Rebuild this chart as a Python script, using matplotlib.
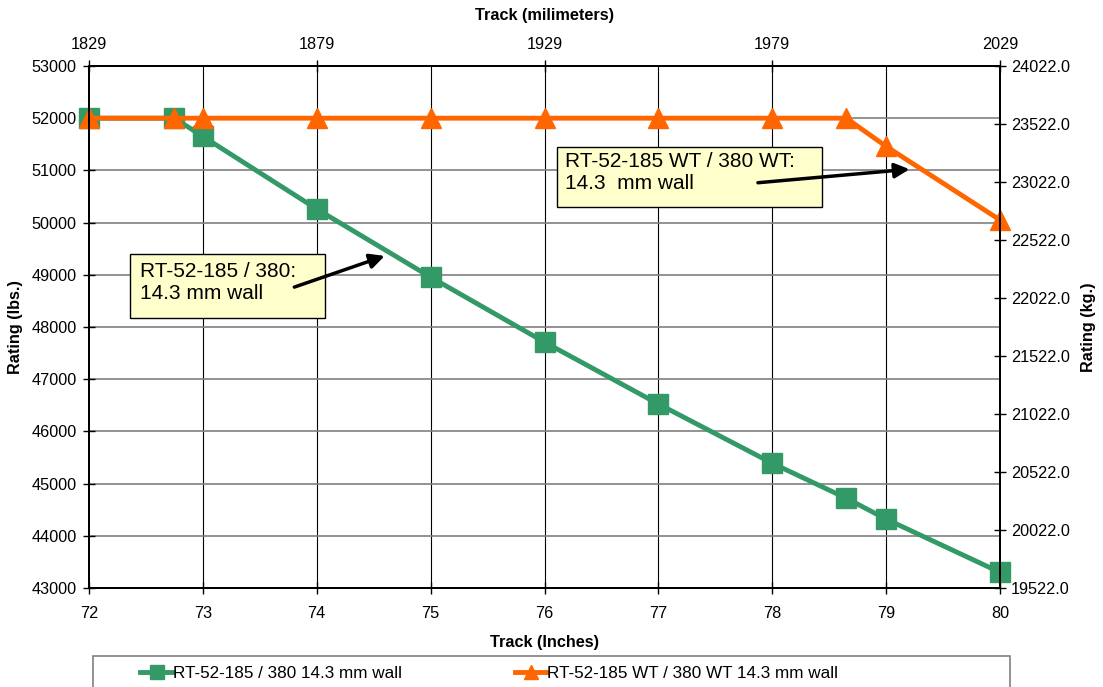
import matplotlib.pyplot as plt
from matplotlib.patches import Rectangle
from matplotlib.ticker import FormatStrFormatter

plt.rcParams['font.family'] = ['Liberation Sans', 'DejaVu Sans']

# data
track_in = [72, 72.75, 73, 74, 75, 76, 77, 78, 78.65, 79, 80]
rating_std = [52000, 52000, 51650, 50260, 48955, 47710, 46525, 45390, 44720, 44320, 43300]
rating_wt = [52000, 52000, 52000, 52000, 52000, 52000, 52000, 52000, 52000, 51460, 50050]

label_std = 'RT-52-185 / 380 14.3 mm wall'
label_wt = 'RT-52-185 WT / 380 WT 14.3 mm wall'
note_std = 'RT-52-185 / 380:\n14.3 mm wall'
note_wt = 'RT-52-185 WT / 380 WT:\n14.3  mm wall'

mm_ticks = [1829, 1879, 1929, 1979, 2029]
kg_ticks = [19522 + 500 * i for i in range(10)]

green = '#339966'
orange = '#FF6600'
tick_fs = 11.7
label_fs = 11.7

fig = plt.figure(figsize=(11.03, 6.87), dpi=100)
ax = fig.add_axes([89 / 1103, 1 - 588 / 687, 911 / 1103, 522 / 687])

ax.set_xlim(72, 80)
ax.set_ylim(43000, 53000)
ax.set_xticks(range(72, 81))
ax.set_yticks(range(43000, 53001, 1000))
for x in range(73, 80):
    ax.axvline(x, color='black', lw=0.8, zorder=1)
for y in range(44000, 53000, 1000):
    ax.axhline(y, color='#808080', lw=1.2, zorder=1)

ax.plot(track_in, rating_std, color=green, lw=3.5, marker='s', ms=14,
        label=label_std, zorder=3, clip_on=False)
ax.plot(track_in, rating_wt, color=orange, lw=3.5, marker='^', ms=15,
        label=label_wt, zorder=4, clip_on=False)

for s in ax.spines.values():
    s.set_linewidth(1.3)
ax.tick_params(direction='inout', length=8, width=1, labelsize=tick_fs)
ax.tick_params(axis='x', pad=9)
ax.tick_params(axis='y', pad=5)
ax.set_xlabel('Track (Inches)', fontsize=label_fs, fontweight='bold', labelpad=10)
ax.set_ylabel('Rating (lbs.)', fontsize=label_fs, fontweight='bold', labelpad=6)

# text boxes with arrows
ax.add_patch(Rectangle((72.36, 48172), 74.07 - 72.36, 49398 - 48172,
                       facecolor='#FFFFCC', edgecolor='black', lw=1, zorder=5))
ax.text(72.45, 48852, note_std, fontsize=15, va='center', ha='left',
        linespacing=1.2, zorder=6)
ax.annotate('', xy=(74.62, 49379), xytext=(73.78, 48747),
            arrowprops=dict(arrowstyle='-|>', color='black', lw=2.5,
                            mutation_scale=22), zorder=7)

ax.add_patch(Rectangle((76.11, 50299), 78.44 - 76.11, 51448 - 50299,
                       facecolor='#FFFFCC', edgecolor='black', lw=1, zorder=5))
ax.text(76.18, 50960, note_wt, fontsize=15, va='center', ha='left',
        linespacing=1.2, zorder=6)
ax.annotate('', xy=(79.23, 51027), xytext=(77.85, 50759),
            arrowprops=dict(arrowstyle='-|>', color='black', lw=2.5,
                            mutation_scale=22), zorder=7)

# secondary axes
axr = ax.twinx()
axr.set_ylim(19522, 24022)
axr.set_yticks(kg_ticks)
axr.yaxis.set_major_formatter(FormatStrFormatter('%.1f'))
axr.tick_params(direction='inout', length=8, width=1, labelsize=tick_fs, pad=4)
axr.set_ylabel('Rating (kg.)', fontsize=label_fs, fontweight='bold', labelpad=8)

axt = ax.twiny()
axt.set_xlim(1829, 2029)
axt.set_xticks(mm_ticks)
axt.tick_params(direction='inout', length=8, width=1, labelsize=tick_fs, pad=6)
axt.set_xlabel('Track (milimeters)', fontsize=label_fs, fontweight='bold', labelpad=12)
for a in (axr, axt):
    for s in a.spines.values():
        s.set_linewidth(1.3)

# legend box at bottom
fig.patches.append(Rectangle((93 / 1103, -0.05), 917 / 1103, 0.05 + 31 / 687,
                             transform=fig.transFigure, facecolor='white',
                             edgecolor='#808080', lw=1.2, zorder=0))
fig.legend(*ax.get_legend_handles_labels(), loc='center left',
           bbox_to_anchor=(125 / 1103, 1 - 673 / 687), ncol=2, frameon=False,
           fontsize=12.3, handlelength=1.9, handletextpad=0.0,
           columnspacing=6.6, markerscale=0.7)

fig.savefig('out.png', dpi=100)
